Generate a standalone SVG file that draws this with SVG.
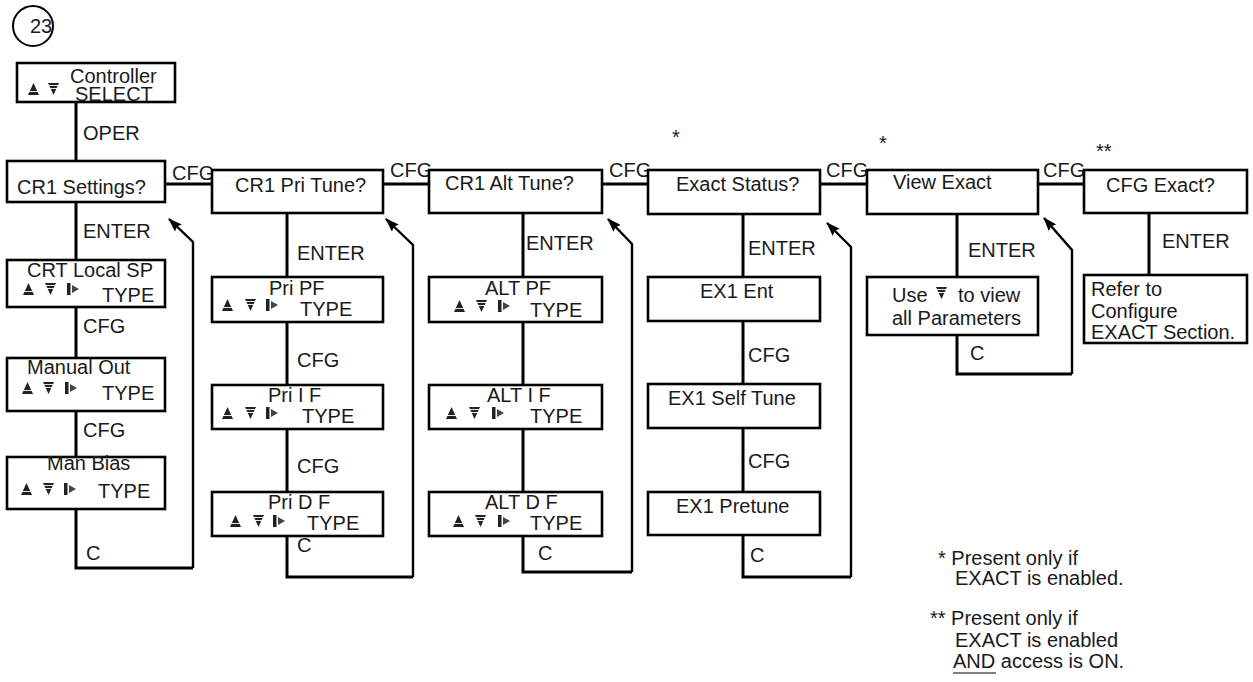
<svg xmlns="http://www.w3.org/2000/svg" width="1253" height="682" viewBox="0 0 1253 682">
<style>
text{font-family:"Liberation Sans",Arial,sans-serif;font-size:20px;fill:#1a1a1a}
.box{fill:#fff;stroke:#000;stroke-width:2.6}
.ln{fill:none;stroke:#000;stroke-width:3}
.rt{fill:none;stroke:#000;stroke-width:2.4}
.ic{fill:#222}
.icw{stroke:#fff;stroke-width:0.9}
</style>
<defs>
<g id="up"><polygon class="ic" points="0,12 5.5,0 11,12"/><line class="icw" x1="0" y1="8.5" x2="11" y2="8.5"/></g>
<g id="dn"><polygon class="ic" points="0,0 11,0 5.5,12"/><line class="icw" x1="0" y1="2.5" x2="11" y2="2.5"/><line class="icw" x1="0" y1="5.5" x2="11" y2="5.5"/></g>
<g id="rg"><rect class="ic" x="0" y="0" width="3.5" height="12"/><polygon fill="#444" points="5,2 5,10 12,6"/></g>
<marker id="ah" viewBox="0 0 14 10" refX="13" refY="5" markerWidth="14" markerHeight="10" markerUnits="userSpaceOnUse" orient="auto"><polygon points="0,0 14,5 0,10 2,5" fill="#000"/></marker>
</defs>

<g id="connectors">
<path class="ln" d="M76,102V161"/>
<path class="ln" d="M165,184H212M383,184H429M602,184H648M820,184H867M1038,184H1084"/>
<path class="ln" d="M76,202V260M76,307V358M76,411V457M76,509V568H193"/>
<path class="rt" d="M193,568V242L169,219" marker-end="url(#ah)"/>
<path class="ln" d="M287,213V277M287,322V385M287,429V492M287,536V577H413"/>
<path class="rt" d="M413,577V245L386,219" marker-end="url(#ah)"/>
<path class="ln" d="M523,213V277M523,322V385M523,429V492M523,536V572H632"/>
<path class="rt" d="M632,572V244L608,219" marker-end="url(#ah)"/>
<path class="ln" d="M743,214V277M743,321V384M743,428V492M743,535V577H851"/>
<path class="rt" d="M851,577V247L827,223" marker-end="url(#ah)"/>
<path class="ln" d="M957,214V277M957,335V374H1072"/>
<path class="rt" d="M1072,374V250L1044,218" marker-end="url(#ah)"/>
<path class="ln" d="M1149,213V275"/>
<text x="83" y="140">OPER</text>
<text x="172" y="180">CFG</text>
<text x="390" y="177">CFG</text>
<text x="609" y="177">CFG</text>
<text x="826" y="177">CFG</text>
<text x="1043" y="177">CFG</text>
<text x="83" y="238">ENTER</text>
<text x="83" y="333">CFG</text>
<text x="83" y="437">CFG</text>
<text x="86" y="560">C</text>
<text x="297" y="260">ENTER</text>
<text x="297" y="367">CFG</text>
<text x="297" y="473">CFG</text>
<text x="297" y="552">C</text>
<text x="526" y="250">ENTER</text>
<text x="538" y="560">C</text>
<text x="748" y="255">ENTER</text>
<text x="748" y="362">CFG</text>
<text x="748" y="468">CFG</text>
<text x="750" y="562">C</text>
<text x="968" y="257">ENTER</text>
<text x="970" y="360">C</text>
<text x="1162" y="248">ENTER</text>
</g>

<g id="badge"><circle cx="33" cy="26" r="20" fill="none" stroke="#000" stroke-width="2"/><text x="30" y="33">23</text></g>

<g id="controller"><rect class="box" x="17" y="63" width="158" height="39"/><text x="70" y="83">Controller</text><text x="75" y="101">SELECT</text><use href="#up" x="28" y="83"/><use href="#dn" x="48" y="83"/></g>

<g id="cr1settings"><rect class="box" x="7" y="161" width="158" height="41"/><text x="17" y="194">CR1 Settings?</text></g>
<g id="crtlocalsp"><rect class="box" x="7" y="260" width="158" height="47"/><text x="27" y="277">CRT Local SP</text><use href="#up" x="23" y="283"/><use href="#dn" x="45" y="283"/><use href="#rg" x="67" y="283"/><text x="102" y="302">TYPE</text></g>
<g id="manualout"><rect class="box" x="7" y="358" width="158" height="53"/><text x="27" y="374">Manual Out</text><use href="#up" x="22" y="382"/><use href="#dn" x="43" y="382"/><use href="#rg" x="65" y="382"/><text x="102" y="400">TYPE</text></g>
<g id="manbias"><rect class="box" x="7" y="457" width="158" height="52"/><text x="47" y="470">Man Bias</text><use href="#up" x="21" y="483"/><use href="#dn" x="43" y="483"/><use href="#rg" x="64" y="483"/><text x="98" y="498">TYPE</text></g>

<g id="pritune"><rect class="box" x="212" y="170" width="171" height="43"/><text x="235" y="192">CR1 Pri Tune?</text></g>
<g id="pripf"><rect class="box" x="212" y="277" width="171" height="45"/><text x="269" y="295">Pri PF</text><use href="#up" x="222" y="299"/><use href="#dn" x="245" y="299"/><use href="#rg" x="266" y="299"/><text x="300" y="316">TYPE</text></g>
<g id="prii"><rect class="box" x="212" y="385" width="171" height="44"/><text x="268" y="402">Pri I F</text><use href="#up" x="222" y="407"/><use href="#dn" x="245" y="407"/><use href="#rg" x="266" y="407"/><text x="302" y="423">TYPE</text></g>
<g id="prid"><rect class="box" x="212" y="492" width="171" height="44"/><text x="268" y="509">Pri D F</text><use href="#up" x="230" y="515"/><use href="#dn" x="253" y="515"/><use href="#rg" x="273" y="515"/><text x="307" y="530">TYPE</text></g>

<g id="alttune"><rect class="box" x="429" y="170" width="173" height="43"/><text x="445" y="190">CR1 Alt Tune?</text></g>
<g id="altpf"><rect class="box" x="429" y="277" width="173" height="45"/><text x="485" y="295">ALT PF</text><use href="#up" x="454" y="300"/><use href="#dn" x="476" y="300"/><use href="#rg" x="498" y="300"/><text x="530" y="317">TYPE</text></g>
<g id="alti"><rect class="box" x="429" y="385" width="173" height="44"/><text x="487" y="402">ALT I F</text><use href="#up" x="446" y="407"/><use href="#dn" x="469" y="407"/><use href="#rg" x="492" y="407"/><text x="530" y="423">TYPE</text></g>
<g id="altd"><rect class="box" x="429" y="492" width="173" height="44"/><text x="485" y="509">ALT D F</text><use href="#up" x="453" y="515"/><use href="#dn" x="475" y="515"/><use href="#rg" x="498" y="515"/><text x="530" y="530">TYPE</text></g>

<g id="exactstatus"><rect class="box" x="648" y="170" width="172" height="44"/><text x="676" y="191">Exact Status?</text><text x="672" y="144">*</text></g>
<g id="ex1ent"><rect class="box" x="648" y="277" width="172" height="44"/><text x="700" y="298">EX1 Ent</text></g>
<g id="ex1self"><rect class="box" x="648" y="384" width="172" height="44"/><text x="668" y="405">EX1 Self Tune</text></g>
<g id="ex1pre"><rect class="box" x="648" y="492" width="172" height="43"/><text x="676" y="513">EX1 Pretune</text></g>

<g id="viewexact"><rect class="box" x="867" y="170" width="171" height="44"/><text x="893" y="189">View Exact</text><text x="879" y="150">*</text></g>
<g id="useview"><rect class="box" x="867" y="277" width="171" height="58"/><text x="892" y="302">Use</text><use href="#dn" x="936" y="287"/><text x="958" y="302">to view</text><text x="892" y="325">all Parameters</text></g>

<g id="cfgexact"><rect class="box" x="1084" y="170" width="163" height="43"/><text x="1106" y="192">CFG Exact?</text><text x="1096" y="158">**</text></g>
<g id="refer"><rect class="box" x="1084" y="275" width="163" height="68"/><text x="1091" y="296">Refer to</text><text x="1091" y="318">Configure</text><text x="1091" y="339">EXACT Section.</text></g>

<g id="notes">
<text x="938" y="565" xml:space="preserve">* Present only if</text>
<text x="955" y="585">EXACT is enabled.</text>
<text x="930" y="625" xml:space="preserve">** Present only if</text>
<text x="955" y="647">EXACT is enabled</text>
<text x="953" y="668">AND access is ON.</text>
<line x1="953" y1="673" x2="996" y2="673" stroke="#000" stroke-width="1.2"/>
</g>
</svg>
